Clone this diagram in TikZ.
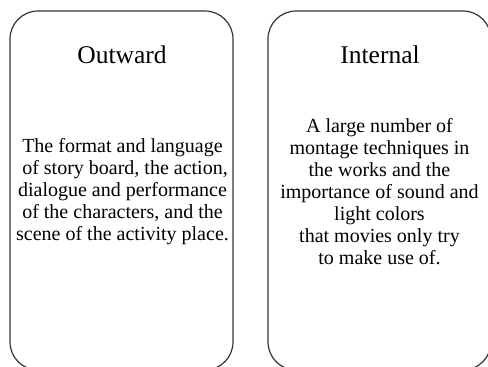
\documentclass[tikz,border=0pt]{standalone}
\usepackage{fontspec}
\setmainfont{Liberation Serif}
\begin{document}
\begin{tikzpicture}[x=1pt,y=-1pt,
  card/.style={draw=black!80, line width=1.2pt, rounded corners=28pt,
    minimum width=223pt, minimum height=359pt, inner sep=0pt},
  cardtitle/.style={anchor=base, inner sep=0pt, font=\fontsize{25.5}{28}\selectfont},
  cardtext/.style={anchor=base, inner sep=0pt, align=center, font=\fontsize{20}{22}\selectfont}]
\useasboundingbox (0,0) rectangle (488,367);
\node[card] (outer) at (121.5,190.5) {};
\node[card] (inner) at (379.5,190.5) {};
\node[cardtitle] (outt) at (122,63) {Outward};
\node[cardtitle] (int) at (380,63) {Internal};
\node[cardtext] (outx) at (122.5,240) {The format and language\\
\hspace*{0.25em}of story board, the action,\\
dialogue and performance\\
of the characters, and the\hspace*{0.7em}\\
scene of the activity place.};
\node[cardtext] (intx) at (379.5,264) {A large number of\\
montage techniques in\\
the works and the\\
importance of sound and\\
light colors\\
that movies only try\\
to make use of.};
\end{tikzpicture}
\end{document}
